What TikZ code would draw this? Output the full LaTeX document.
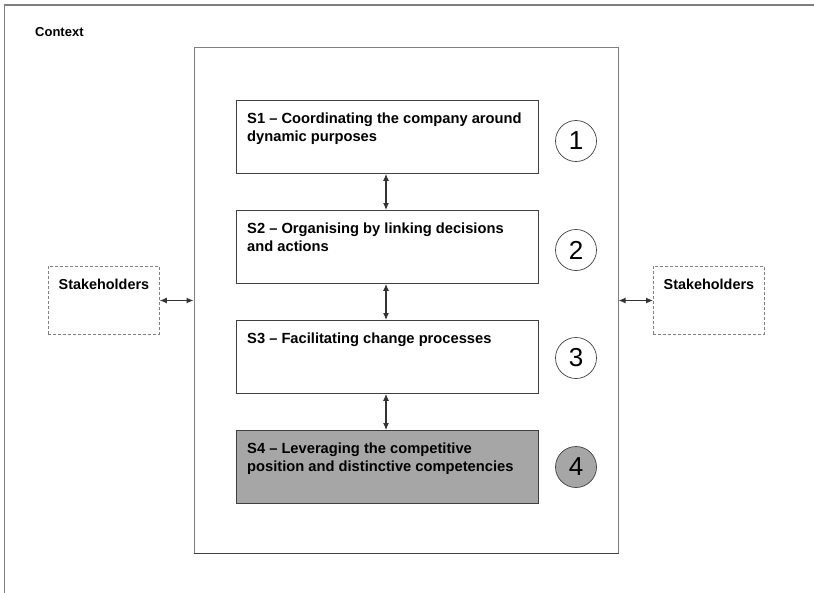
\documentclass[tikz,border=0pt]{standalone}
\usepackage{fontspec}
\setmainfont{Liberation Sans}
\usetikzlibrary{arrows.meta,positioning}
\definecolor{edge}{HTML}{404040}
\definecolor{frame}{HTML}{7F7F7F}
\definecolor{shade}{HTML}{A6A6A6}
\tikzset{
  stagebox/.style={draw=edge, line width=0.9pt, minimum width=302pt, minimum height=73pt, inner sep=0pt, anchor=north west},
  stagetext/.style={anchor=north west, align=left, inner sep=0pt, font=\bfseries\fontsize{14.7}{17.8}\selectfont},
  numcircle/.style={circle, draw=edge, line width=0.7pt, minimum size=41pt, inner sep=0pt, font=\fontsize{26}{26}\selectfont},
  holderbox/.style={draw=frame, dashed, dash pattern=on 3pt off 2pt, line width=0.8pt, minimum width=111pt, minimum height=68pt, inner sep=0pt, anchor=north west},
  holdertext/.style={anchor=north, inner sep=0pt, font=\bfseries\fontsize{14.4}{16}\selectfont},
  tip/.tip={Latex[length=7pt,width=6pt]},
  link/.style={draw=edge!80!black, line width=1.1pt, tip-tip}
}
\begin{document}
\begin{tikzpicture}[x=1pt,y=-1pt]
\useasboundingbox (0,0) rectangle (814,592);
\fill[white] (0,0) rectangle (814,592);
% context frame, open to the right and bottom
\draw[frame, line width=1.1pt] (4.5,600) -- (4.5,5) -- (820,5);
\node[anchor=base west, inner sep=0pt, font=\bfseries\fontsize{13}{15}\selectfont] (ctx) at (35,36) {Context};
% central frame
\node[draw=frame, line width=1.1pt, minimum width=424pt, minimum height=506pt, inner sep=0pt, anchor=north west] (core) at (193.5,46.5) {};
\draw[edge, line width=1.1pt] (core.south west) -- (core.south east);
% stages
\node[stagebox] (s1) at (236,100) {};
\node[stagebox] (s2) at (236,210) {};
\node[stagebox] (s3) at (236,320) {};
\node[stagebox, fill=shade] (s4) at (236,430) {};
\node[stagetext] (s1t) at ([xshift=11pt,yshift=-12.5pt]s1.north west) {S1 – Coordinating the company around\\dynamic purposes};
\node[stagetext] (s2t) at ([xshift=11pt,yshift=-12.5pt]s2.north west) {S2 – Organising by linking decisions\\and actions};
\node[stagetext] (s3t) at ([xshift=11pt,yshift=-12.5pt]s3.north west) {S3 – Facilitating change processes};
\node[stagetext] (s4t) at ([xshift=11pt,yshift=-12.5pt]s4.north west) {S4 – Leveraging the competitive\\position and distinctive competencies};
\node[numcircle] (c1) at (576,141) {1};
\node[numcircle] (c2) at (576,250) {2};
\node[numcircle] (c3) at (576,358) {3};
\node[numcircle, fill=shade] (c4) at (576,467) {4};
% stage links
\draw[link] (s1.south -| 386,0) -- (s2.north -| 386,0);
\draw[link] (s2.south -| 386,0) -- (s3.north -| 386,0);
\draw[link] (s3.south -| 386,0) -- (s4.north -| 386,0);
% stakeholders
\node[holderbox] (hl) at (48,266) {};
\node[holderbox] (hr) at (653,266) {};
\node[holdertext] (hlt) at ([yshift=-13pt]hl.north) {Stakeholders};
\node[holdertext] (hrt) at ([yshift=-13pt]hr.north) {Stakeholders};
\draw[link] (hl.east |- 0,300.5) -- (core.west |- 0,300.5);
\draw[link] (core.east |- 0,300.5) -- (hr.west |- 0,300.5);
\end{tikzpicture}
\end{document}
